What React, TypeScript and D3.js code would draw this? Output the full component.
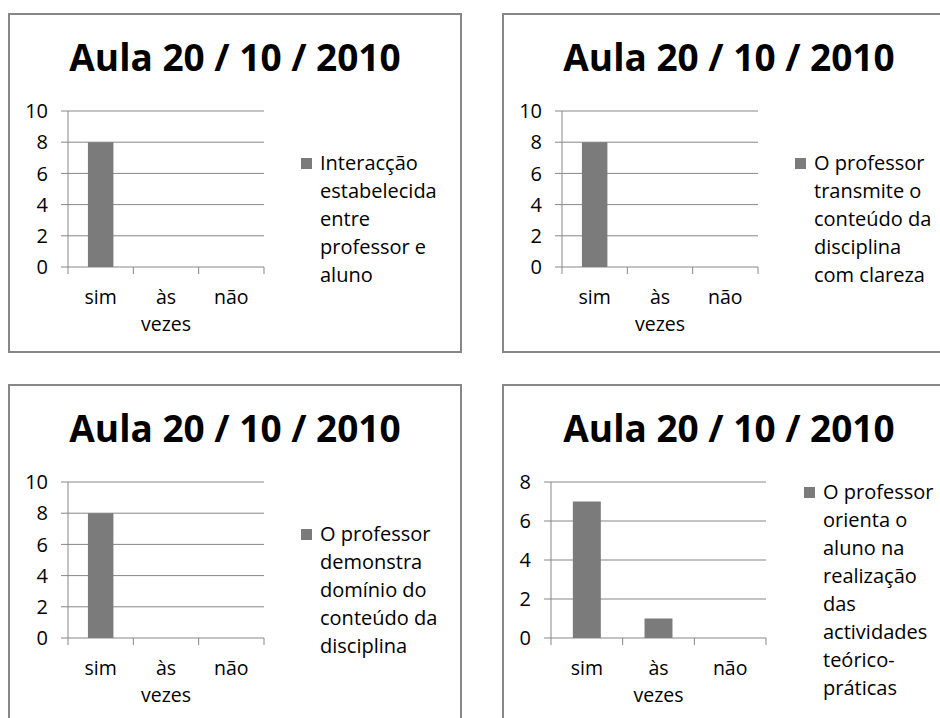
import { useEffect, useRef } from 'react';
import * as d3 from 'd3';

const categories = ['sim', 'às vezes', 'não'];
const titles = ['Aula 20 / 10 / 2010', 'Aula 20 / 10 / 2010', 'Aula 20 / 10 / 2010', 'Aula 20 / 10 / 2010'];
const interaccaoValues = [8, 0, 0];
const clarezaValues = [8, 0, 0];
const dominioValues = [8, 0, 0];
const orientaValues = [7, 1, 0];
const yMaxValues = [10, 10, 10, 8];
const legendLines = [
  ['Interacção', 'estabelecida', 'entre', 'professor e', 'aluno'],
  ['O professor', 'transmite o', 'conteúdo da', 'disciplina', 'com clareza'],
  ['O professor', 'demonstra', 'domínio do', 'conteúdo da', 'disciplina'],
  ['O professor', 'orienta o', 'aluno na', 'realização', 'das', 'actividades', 'teórico-', 'práticas'],
];
const seriesValues = [interaccaoValues, clarezaValues, dominioValues, orientaValues];

// panel boxes and plot-area placement (local to each panel)
const PANELS = [
  { x: 9, y: 14, left: 59, right: 255, legendX: 292 },
  { x: 503, y: 14, left: 59, right: 255, legendX: 292 },
  { x: 9, y: 385, left: 59, right: 255, legendX: 292 },
  { x: 503, y: 385, left: 48, right: 263, legendX: 301 },
];

const FONT = "'Open Sans', sans-serif";
const GRAY = '#878787';
const BAR = '#7b7b7b';

export default function App() {
  const svgRef = useRef<SVGSVGElement>(null);

  useEffect(() => {
    if (!svgRef.current) return;
    const svg = d3.select(svgRef.current);
    svg.selectAll('*').remove();

    PANELS.forEach((p, i) => {
      const g = svg.append('g').attr('transform', `translate(${p.x},${p.y})`);

      g.append('rect')
        .attr('width', 452)
        .attr('height', 338)
        .attr('fill', '#fff')
        .attr('stroke', GRAY)
        .attr('stroke-width', 2);

      g.append('text')
        .attr('x', 226)
        .attr('y', 57)
        .attr('text-anchor', 'middle')
        .attr('font-family', FONT)
        .attr('font-weight', 700)
        .attr('font-size', 37)
        .attr('fill', '#000')
        .text(titles[i]);

      const x = d3.scaleBand().domain(categories).range([p.left, p.right]);
      const y = d3.scaleLinear().domain([0, yMaxValues[i]]).range([253, 97]);
      const ticks = y.ticks(5);

      // gridlines + left tick marks
      g.selectAll('line.grid')
        .data(ticks)
        .enter()
        .append('line')
        .attr('x1', p.left - 7)
        .attr('x2', p.right)
        .attr('y1', (d) => y(d))
        .attr('y2', (d) => y(d))
        .attr('stroke', GRAY)
        .attr('stroke-width', 1);

      g.selectAll('text.ytick')
        .data(ticks)
        .enter()
        .append('text')
        .attr('x', p.left - 20)
        .attr('y', (d) => y(d))
        .attr('dy', '0.36em')
        .attr('text-anchor', 'end')
        .attr('font-family', FONT)
        .attr('font-size', 20)
        .attr('fill', '#000')
        .text((d) => d);

      // y axis line
      g.append('line')
        .attr('x1', p.left)
        .attr('x2', p.left)
        .attr('y1', y(yMaxValues[i]))
        .attr('y2', 253)
        .attr('stroke', GRAY);

      // x tick marks at band edges
      const edges = [...categories.map((c) => x(c) ?? 0), p.right];
      g.selectAll('line.xtick')
        .data(edges)
        .enter()
        .append('line')
        .attr('x1', (d) => d)
        .attr('x2', (d) => d)
        .attr('y1', 253)
        .attr('y2', 260)
        .attr('stroke', GRAY);

      const bw = x.bandwidth() * 0.39;
      g.selectAll('rect.bar')
        .data(seriesValues[i])
        .enter()
        .append('rect')
        .attr('x', (_, j) => (x(categories[j]) ?? 0) + x.bandwidth() / 2 - bw / 2)
        .attr('width', bw)
        .attr('y', (d) => y(d))
        .attr('height', (d) => 253 - y(d))
        .attr('fill', BAR);

      categories.forEach((c) => {
        const t = g.append('text')
          .attr('text-anchor', 'middle')
          .attr('font-family', FONT)
          .attr('font-size', 19.5)
          .attr('fill', '#000');
        c.split(' ').forEach((w, k) => {
          t.append('tspan')
            .attr('x', (x(c) ?? 0) + x.bandwidth() / 2)
            .attr('y', 290 + k * 27)
            .text(w);
        });
      });

      // legend
      const lines = legendLines[i];
      const first = 212 - ((lines.length - 1) / 2) * 28;
      g.append('rect')
        .attr('x', p.legendX)
        .attr('y', first - 12)
        .attr('width', 11)
        .attr('height', 11)
        .attr('fill', BAR);
      const lt = g.append('text')
        .attr('font-family', FONT)
        .attr('font-size', 20)
        .attr('fill', '#000');
      lines.forEach((l, k) => {
        lt.append('tspan')
          .attr('x', p.legendX + 19)
          .attr('y', first + k * 28)
          .text(l);
      });
    });
  }, []);

  return (
    <svg
      ref={svgRef}
      width={940}
      height={718}
      style={{ position: 'absolute', left: 0, top: 0, background: '#fff' }}
    />
  );
}
